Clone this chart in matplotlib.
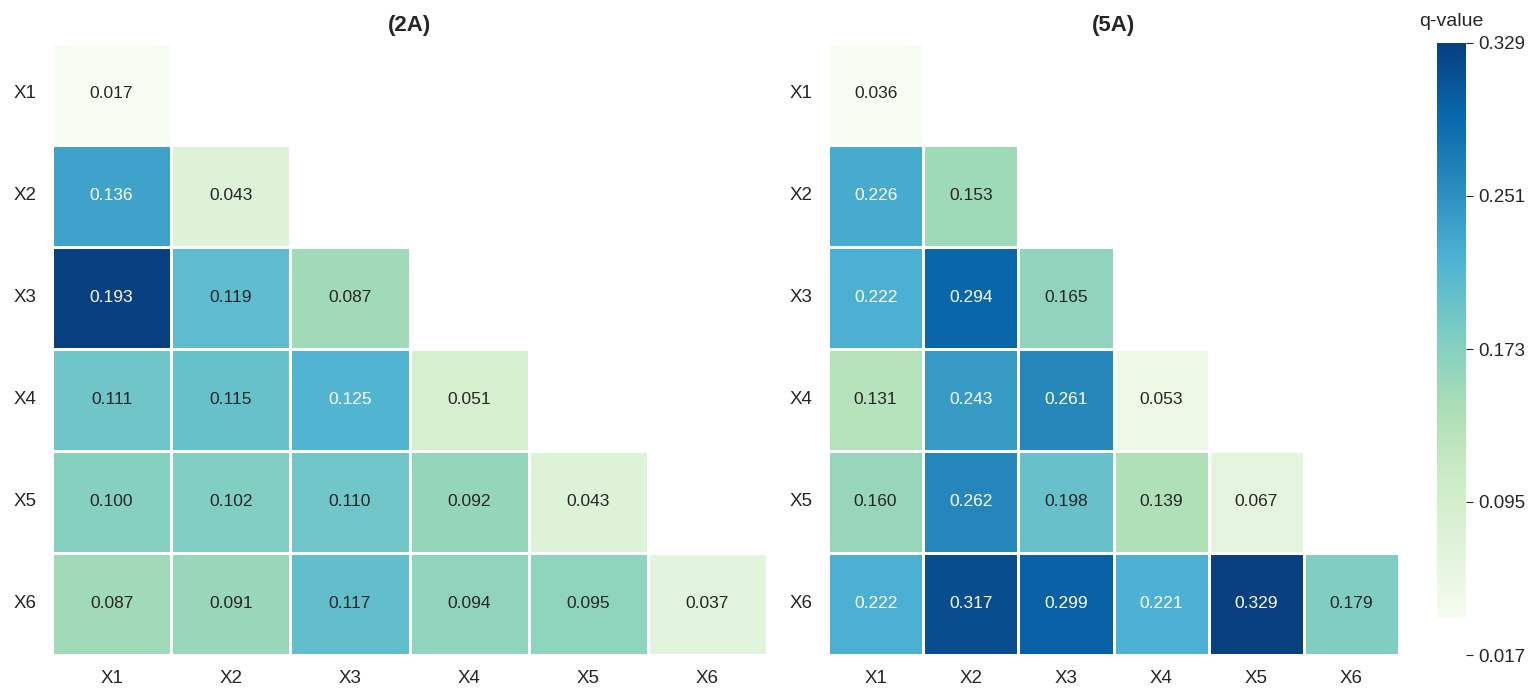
import numpy as np
import pandas as pd
import matplotlib
matplotlib.use("Agg")
import matplotlib.pyplot as plt
import seaborn as sns

plt.rcParams['font.family'] = ['Liberation Sans', 'DejaVu Sans']

factors = ["X1", "X2", "X3", "X4", "X5", "X6"]

# lower triangle q-values, row by row (2A)
rows_2a = [
    [0.017],
    [0.136, 0.043],
    [0.193, 0.119, 0.087],
    [0.111, 0.115, 0.125, 0.051],
    [0.100, 0.102, 0.110, 0.092, 0.043],
    [0.087, 0.091, 0.117, 0.094, 0.095, 0.037],
]

# lower triangle q-values, row by row (5A)
rows_5a = [
    [0.036],
    [0.226, 0.153],
    [0.222, 0.294, 0.165],
    [0.131, 0.243, 0.261, 0.053],
    [0.160, 0.262, 0.198, 0.139, 0.067],
    [0.222, 0.317, 0.299, 0.221, 0.329, 0.179],
]

cbar_ticks = [0.017, 0.095, 0.173, 0.251, 0.329]
cbar_labels = ["0.017", "0.095", "0.173", "0.251", "0.329"]


def to_frame(rows):
    n = len(factors)
    m = np.full((n, n), np.nan)
    for i, r in enumerate(rows):
        m[i, :len(r)] = r
    return pd.DataFrame(m, index=factors, columns=factors)


def draw(ax, rows, title):
    df = to_frame(rows)
    mask = df.isna()
    sns.heatmap(df, mask=mask, cmap="GnBu", vmin=np.nanmin(df.values),
                vmax=np.nanmax(df.values), annot=True, fmt=".3f",
                annot_kws={"size": 12.5}, linewidths=0.9, linecolor="white",
                cbar=False, ax=ax)
    ax.set_title(title, fontsize=16, fontweight="bold", pad=9, color="#262626")
    ax.tick_params(length=0, labelsize=13.5, colors="#262626", pad=11)
    ax.set_yticklabels(factors, rotation=0)
    ax.set_xticklabels(factors, rotation=0)
    ax.set_xlabel("")
    ax.set_ylabel("")


fig = plt.figure(figsize=(15.39, 6.96), dpi=100)
ax1 = fig.add_axes([52 / 1539, 41 / 696, 715 / 1539, 612 / 696])
ax2 = fig.add_axes([828 / 1539, 41 / 696, 571 / 1539, 612 / 696])
cax = fig.add_axes([1437 / 1539, 41 / 696, 29 / 1539, 612 / 696])

draw(ax1, rows_2a, "(2A)")
draw(ax2, rows_5a, "(5A)")

# colour bar for the 5A scale
lo = min(min(r) for r in rows_5a)
hi = max(max(r) for r in rows_5a)
grad = np.linspace(lo, hi, 256).reshape(-1, 1)
cax.imshow(grad, cmap="GnBu", aspect="auto", origin="lower",
           extent=[0, 1, lo, hi])
cax.set_ylim(cbar_ticks[0], cbar_ticks[-1])
cax.set_xlim(0, 1)
cax.set_xticks([])
cax.yaxis.tick_right()
cax.set_yticks(cbar_ticks)
cax.set_yticklabels(cbar_labels)
cax.tick_params(axis="y", length=5, width=0.8, labelsize=13.5, colors="#262626", pad=4)
for s in cax.spines.values():
    s.set_visible(False)
cax.set_title("q-value", fontsize=14, color="#262626", pad=12)

fig.savefig("out.png", dpi=100)
